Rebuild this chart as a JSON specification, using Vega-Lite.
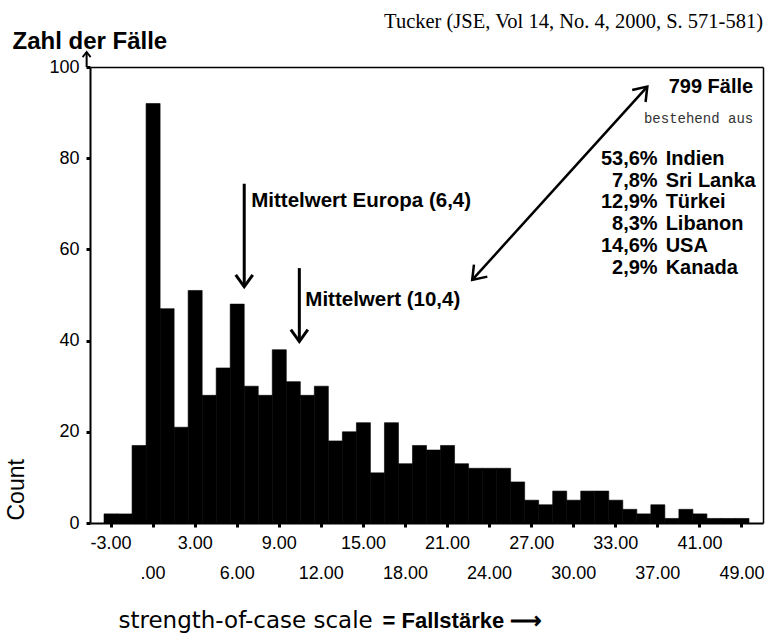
{
  "$schema": "https://vega.github.io/schema/vega-lite/v6.json",
  "width": 673,
  "height": 456,
  "autosize": {"type": "none"},
  "padding": {"left": 90, "top": 67, "right": 6, "bottom": 117},
  "background": "white",
  "config": {
    "view": {"stroke": null},
    "font": "Liberation Sans",
    "axis": {
      "grid": false,
      "domainColor": "black",
      "tickColor": "black",
      "labelColor": "black",
      "titleColor": "black",
      "labelFont": "Liberation Sans",
      "titleFont": "Liberation Sans"
    },
    "text": {"font": "Liberation Sans", "color": "black"}
  },
  "title": {
    "text": "Tucker (JSE, Vol 14, No. 4, 2000, S. 571-581)",
    "anchor": "end",
    "frame": "group",
    "font": "Liberation Serif",
    "fontSize": 20.5,
    "fontWeight": "normal",
    "color": "black",
    "offset": 0,
    "dy": 3
  },
  "datasets": {
    "hist": [
      {"v": -3, "n": 2}, {"v": -2, "n": 2}, {"v": -1, "n": 17}, {"v": 0, "n": 92},
      {"v": 1, "n": 47}, {"v": 2, "n": 21}, {"v": 3, "n": 51}, {"v": 4, "n": 28},
      {"v": 5, "n": 34}, {"v": 6, "n": 48}, {"v": 7, "n": 30}, {"v": 8, "n": 28},
      {"v": 9, "n": 38}, {"v": 10, "n": 31}, {"v": 11, "n": 28}, {"v": 12, "n": 30},
      {"v": 13, "n": 18}, {"v": 14, "n": 20}, {"v": 15, "n": 22}, {"v": 16, "n": 11},
      {"v": 17, "n": 22}, {"v": 18, "n": 13}, {"v": 19, "n": 17}, {"v": 20, "n": 16},
      {"v": 21, "n": 17}, {"v": 22, "n": 13}, {"v": 23, "n": 12}, {"v": 24, "n": 12},
      {"v": 25, "n": 12}, {"v": 26, "n": 9}, {"v": 27, "n": 5}, {"v": 28, "n": 4},
      {"v": 29, "n": 7}, {"v": 30, "n": 5}, {"v": 31, "n": 7}, {"v": 32, "n": 7},
      {"v": 33, "n": 5}, {"v": 34, "n": 3}, {"v": 35, "n": 2}, {"v": 37, "n": 4},
      {"v": 38, "n": 1}, {"v": 39, "n": 3}, {"v": 41, "n": 2}, {"v": 43, "n": 1},
      {"v": 45, "n": 1}, {"v": 49, "n": 1}
    ]
  },
  "resolve": {"axis": {"x": "independent", "y": "independent"}},
  "layer": [
    {
      "data": {"name": "hist"},
      "mark": {"type": "bar", "color": "black", "stroke": "black", "strokeWidth": 0.6},
      "encoding": {
        "x": {
          "field": "v",
          "type": "ordinal",
          "scale": {
            "type": "band",
            "domain": [-3, -2, -1, 0, 1, 2, 3, 4, 5, 6, 7, 8, 9, 10, 11, 12, 13, 14, 15, 16, 17, 18, 19, 20, 21, 22, 23, 24, 25, 26, 27, 28, 29, 30, 31, 32, 33, 34, 35, 37, 38, 39, 41, 43, 45, 49],
            "paddingInner": 0,
            "paddingOuter": 1.24
          },
          "axis": {
            "orient": "bottom",
            "values": [-3, 0, 3, 6, 9, 12, 15, 18, 21, 24, 27, 30, 33, 37, 41, 49],
            "labelExpr": "datum.value == 0 ? '.00' : datum.value + '.00'",
            "labelAngle": 0,
            "labelOverlap": false,
            "labelFlush": false,
            "labelBound": false,
            "labelBaseline": "alphabetic",
            "labelFontSize": 18,
            "labelPadding": {
              "condition": {"test": "indexof([0, 6, 12, 18, 24, 30, 37, 49], datum.value) >= 0", "value": 51},
              "value": 21
            },
            "tickSize": 4,
            "tickWidth": 3,
            "domainWidth": 2,
            "title": "strength-of-case scale",
            "titleFont": "DejaVu Sans",
            "titleFontSize": 23,
            "titleFontWeight": "normal",
            "titleAlign": "left",
            "titleBaseline": "alphabetic",
            "titleX": 28,
            "titleY": 104
          }
        },
        "y": {
          "field": "n",
          "type": "quantitative",
          "scale": {"domain": [0, 100], "nice": false},
          "axis": {
            "orient": "left",
            "values": [0, 20, 40, 60, 80, 100],
            "labelFontSize": 18,
            "labelPadding": 7,
            "tickSize": 4,
            "tickWidth": 3,
            "domainWidth": 2,
            "title": "Count",
            "titleFontSize": 23,
            "titleFontWeight": "normal",
            "titleAngle": 270,
            "titleAlign": "left",
            "titleBaseline": "alphabetic",
            "titleX": -67,
            "titleY": 453
          }
        }
      }
    },
    {
      "data": {"values": [{}]},
      "mark": {"type": "rule", "color": "black", "strokeWidth": 2},
      "encoding": {
        "x": {
          "datum": -3,
          "type": "ordinal",
          "bandPosition": -1.24,
          "axis": {
            "orient": "top",
            "domain": true,
            "domainWidth": 1.5,
            "ticks": false,
            "labels": false,
            "title": "=  Fallstärke  ⟶",
            "titleFontSize": 22,
            "titleFontWeight": "bold",
            "titleAlign": "left",
            "titleBaseline": "alphabetic",
            "titleX": 292,
            "titleY": 560
          }
        },
        "y": {
          "datum": 100,
          "type": "quantitative",
          "axis": {
            "orient": "right",
            "domain": true,
            "domainWidth": 1.5,
            "ticks": false,
            "labels": false,
            "title": "Zahl der Fälle",
            "titleAngle": 0,
            "titleFontSize": 24,
            "titleFontWeight": "bold",
            "titleAlign": "left",
            "titleBaseline": "alphabetic",
            "titleX": -751,
            "titleY": -19
          }
        },
        "y2": {"datum": 103.3}
      }
    },
    {
      "data": {"values": [{}]},
      "mark": {"type": "point", "shape": "M-1,1.3L0,0L1,1.3", "filled": false, "color": "black", "strokeWidth": 1.8, "size": 64, "opacity": 1},
      "encoding": {
        "x": {"datum": -3, "type": "ordinal", "bandPosition": -1.24, "axis": null},
        "y": {"datum": 103.3, "type": "quantitative", "axis": null}
      }
    },
    {
      "data": {"values": [{}]},
      "mark": {"type": "rule", "color": "black", "strokeWidth": 3},
      "encoding": {
        "x": {"datum": 6, "type": "ordinal", "bandPosition": 1.0, "axis": null},
        "y": {"datum": 74.4, "type": "quantitative", "axis": null},
        "y2": {"datum": 51.8}
      }
    },
    {
      "data": {"values": [{}]},
      "mark": {"type": "point", "shape": "M-1,-1.4L0,0L1,-1.4", "filled": false, "color": "black", "strokeWidth": 3, "size": 289, "opacity": 1},
      "encoding": {
        "x": {"datum": 6, "type": "ordinal", "bandPosition": 1.0, "axis": null},
        "y": {"datum": 51.8, "type": "quantitative", "axis": null}
      }
    },
    {
      "data": {"values": [{}]},
      "mark": {"type": "rule", "color": "black", "strokeWidth": 3},
      "encoding": {
        "x": {"datum": 10, "type": "ordinal", "bandPosition": 0.93, "axis": null},
        "y": {"datum": 55.9, "type": "quantitative", "axis": null},
        "y2": {"datum": 39.8}
      }
    },
    {
      "data": {"values": [{}]},
      "mark": {"type": "point", "shape": "M-1,-1.4L0,0L1,-1.4", "filled": false, "color": "black", "strokeWidth": 3, "size": 289, "opacity": 1},
      "encoding": {
        "x": {"datum": 10, "type": "ordinal", "bandPosition": 0.93, "axis": null},
        "y": {"datum": 39.8, "type": "quantitative", "axis": null}
      }
    },
    {
      "data": {"values": [{}]},
      "mark": {"type": "rule", "color": "black", "strokeWidth": 2.5},
      "encoding": {
        "x": {"datum": 23, "type": "ordinal", "bandPosition": 0.26, "axis": null},
        "y": {"datum": 53.3, "type": "quantitative", "axis": null},
        "x2": {"datum": 35, "bandPosition": 0.75},
        "y2": {"datum": 95.7}
      }
    },
    {
      "data": {"values": [{}]},
      "mark": {"type": "point", "shape": "M-1,1.4L0,0L1,1.4", "filled": false, "color": "black", "strokeWidth": 2.5, "size": 324, "opacity": 1, "angle": 42},
      "encoding": {
        "x": {"datum": 35, "type": "ordinal", "bandPosition": 0.75, "axis": null},
        "y": {"datum": 95.7, "type": "quantitative", "axis": null}
      }
    },
    {
      "data": {"values": [{}]},
      "mark": {"type": "point", "shape": "M-1,1.4L0,0L1,1.4", "filled": false, "color": "black", "strokeWidth": 2.5, "size": 324, "opacity": 1, "angle": 222},
      "encoding": {
        "x": {"datum": 23, "type": "ordinal", "bandPosition": 0.26, "axis": null},
        "y": {"datum": 53.3, "type": "quantitative", "axis": null}
      }
    },
    {
      "data": {"values": [{"label": "Mittelwert Europa (6,4)"}]},
      "mark": {"type": "text", "align": "left", "baseline": "alphabetic", "dx": 7, "fontSize": 20.5, "fontWeight": "bold"},
      "encoding": {
        "x": {"datum": 6, "type": "ordinal", "bandPosition": 1.0, "axis": null},
        "y": {"datum": 69.4, "type": "quantitative", "axis": null},
        "text": {"field": "label", "type": "nominal"}
      }
    },
    {
      "data": {"values": [{"label": "Mittelwert (10,4)"}]},
      "mark": {"type": "text", "align": "left", "baseline": "alphabetic", "dx": 6, "fontSize": 20.5, "fontWeight": "bold"},
      "encoding": {
        "x": {"datum": 10, "type": "ordinal", "bandPosition": 0.93, "axis": null},
        "y": {"datum": 47.6, "type": "quantitative", "axis": null},
        "text": {"field": "label", "type": "nominal"}
      }
    },
    {
      "data": {"values": [{"label": "799 Fälle"}]},
      "mark": {"type": "text", "align": "right", "baseline": "alphabetic", "fontSize": 20, "fontWeight": "bold"},
      "encoding": {
        "x": {"datum": 49, "type": "ordinal", "bandPosition": 1.3, "axis": null},
        "y": {"datum": 94.2, "type": "quantitative", "axis": null},
        "text": {"field": "label", "type": "nominal"}
      }
    },
    {
      "data": {"values": [{"label": "bestehend aus"}]},
      "mark": {"type": "text", "align": "right", "baseline": "alphabetic", "font": "Liberation Mono", "fontSize": 14, "fontWeight": "normal", "color": "#333333"},
      "encoding": {
        "x": {"datum": 49, "type": "ordinal", "bandPosition": 1.3, "axis": null},
        "y": {"datum": 87.7, "type": "quantitative", "axis": null},
        "text": {"field": "label", "type": "nominal"}
      }
    },
    {
      "data": {"values": [{"pct": ["53,6%", "7,8%", "12,9%", "8,3%", "14,6%", "2,9%"], "land": ["Indien", "Sri Lanka", "Türkei", "Libanon", "USA", "Kanada"]}]},
      "mark": {"type": "text", "align": "right", "baseline": "alphabetic", "dx": -3, "fontSize": 20, "fontWeight": "bold", "lineHeight": 21.7},
      "encoding": {
        "x": {"datum": 37, "type": "ordinal", "bandPosition": 0.7, "axis": null},
        "y": {"datum": 78.5, "type": "quantitative", "axis": null},
        "text": {"field": "pct", "type": "nominal"}
      }
    },
    {
      "data": {"values": [{"pct": ["53,6%", "7,8%", "12,9%", "8,3%", "14,6%", "2,9%"], "land": ["Indien", "Sri Lanka", "Türkei", "Libanon", "USA", "Kanada"]}]},
      "mark": {"type": "text", "align": "left", "baseline": "alphabetic", "dx": 5, "fontSize": 20, "fontWeight": "bold", "lineHeight": 21.7},
      "encoding": {
        "x": {"datum": 37, "type": "ordinal", "bandPosition": 0.7, "axis": null},
        "y": {"datum": 78.5, "type": "quantitative", "axis": null},
        "text": {"field": "land", "type": "nominal"}
      }
    }
  ]
}
